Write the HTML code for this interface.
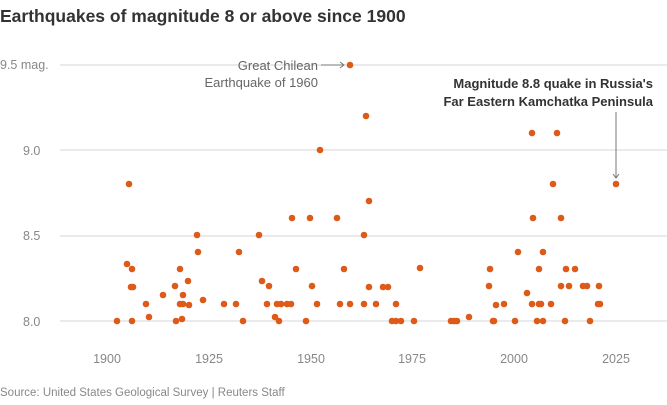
<!DOCTYPE html>
<html><head><meta charset="utf-8"><style>
body{margin:0;background:#fff;font-family:"Liberation Sans",sans-serif}
</style></head><body>
<svg width="667" height="400" xmlns="http://www.w3.org/2000/svg" font-family="Liberation Sans, sans-serif">
<text x="0" y="22" font-size="17.5" font-weight="bold" fill="#333">Earthquakes of magnitude 8 or above since 1900</text>
<g stroke="#d6d6d6" stroke-width="1">
<line x1="60" y1="65" x2="667" y2="65"/>
<line x1="60" y1="150" x2="667" y2="150"/>
<line x1="60" y1="236" x2="667" y2="236"/>
<line x1="60" y1="321" x2="667" y2="321"/>
</g>
<g font-size="12.5" fill="#888">
<text x="0" y="69">9.5 mag.</text>
<text x="23" y="155">9.0</text>
<text x="23" y="240">8.5</text>
<text x="23" y="326">8.0</text>
<g text-anchor="middle">
<text x="107" y="363">1900</text><text x="209" y="363">1925</text><text x="311" y="363">1950</text><text x="412" y="363">1975</text><text x="514" y="363">2000</text><text x="616" y="363">2025</text>
</g>
<text x="0" y="396" font-size="11.5">Source: United States Geological Survey | Reuters Staff</text>
</g>
<g font-size="13" fill="#666" text-anchor="end">
<text x="318" y="70">Great Chilean</text>
<text x="318" y="87">Earthquake of 1960</text>
</g>
<line x1="321" y1="65" x2="344" y2="65" stroke="#777"/>
<path d="M340 62 L344 65 L340 68" fill="none" stroke="#777"/>
<g font-size="13" font-weight="bold" fill="#333" text-anchor="end">
<text x="653" y="88">Magnitude 8.8 quake in Russia's</text>
<text x="653" y="106">Far Eastern Kamchatka Peninsula</text>
</g>
<line x1="616" y1="112" x2="616" y2="178" stroke="#777"/>
<path d="M613 174 L616 178 L619 174" fill="none" stroke="#777"/>
<g fill="#dd5a18">
<circle cx="129" cy="184" r="3.3"/><circle cx="117" cy="321" r="3.3"/><circle cx="132" cy="321" r="3.3"/><circle cx="127" cy="264" r="3.3"/><circle cx="132" cy="269" r="3.3"/><circle cx="131" cy="287" r="3.3"/><circle cx="133" cy="287" r="3.3"/><circle cx="146" cy="304" r="3.3"/><circle cx="149" cy="317" r="3.3"/><circle cx="163" cy="295" r="3.3"/><circle cx="176" cy="321" r="3.3"/><circle cx="175" cy="286" r="3.3"/><circle cx="180" cy="269" r="3.3"/><circle cx="180" cy="304" r="3.3"/><circle cx="183" cy="304" r="3.3"/><circle cx="182" cy="319" r="3.3"/><circle cx="183" cy="295" r="3.3"/><circle cx="188" cy="281" r="3.3"/><circle cx="189" cy="305" r="3.3"/><circle cx="197" cy="235" r="3.3"/><circle cx="198" cy="252" r="3.3"/><circle cx="203" cy="300" r="3.3"/><circle cx="224" cy="304" r="3.3"/><circle cx="236" cy="304" r="3.3"/><circle cx="239" cy="252" r="3.3"/><circle cx="243" cy="321" r="3.3"/><circle cx="259" cy="235" r="3.3"/><circle cx="262" cy="281" r="3.3"/><circle cx="269" cy="286" r="3.3"/><circle cx="267" cy="304" r="3.3"/><circle cx="275" cy="317" r="3.3"/><circle cx="277" cy="304" r="3.3"/><circle cx="281" cy="304" r="3.3"/><circle cx="279" cy="321" r="3.3"/><circle cx="287" cy="304" r="3.3"/><circle cx="291" cy="304" r="3.3"/><circle cx="292" cy="218" r="3.3"/><circle cx="296" cy="269" r="3.3"/><circle cx="310" cy="218" r="3.3"/><circle cx="312" cy="286" r="3.3"/><circle cx="306" cy="321" r="3.3"/><circle cx="317" cy="304" r="3.3"/>
<circle cx="350" cy="65" r="3.3"/><circle cx="366" cy="116" r="3.3"/><circle cx="320" cy="150" r="3.3"/><circle cx="369" cy="201" r="3.3"/><circle cx="337" cy="218" r="3.3"/><circle cx="364" cy="235" r="3.3"/><circle cx="344" cy="269" r="3.3"/><circle cx="420" cy="268" r="3.3"/><circle cx="369" cy="287" r="3.3"/><circle cx="383" cy="287" r="3.3"/><circle cx="388" cy="287" r="3.3"/><circle cx="340" cy="304" r="3.3"/><circle cx="350" cy="304" r="3.3"/><circle cx="364" cy="304" r="3.3"/><circle cx="376" cy="304" r="3.3"/><circle cx="396" cy="304" r="3.3"/><circle cx="392" cy="321" r="3.3"/><circle cx="396" cy="321" r="3.3"/><circle cx="401" cy="321" r="3.3"/><circle cx="414" cy="321" r="3.3"/>
<circle cx="451" cy="321" r="3.3"/><circle cx="454" cy="321" r="3.3"/><circle cx="457" cy="321" r="3.3"/><circle cx="469" cy="317" r="3.3"/>
<circle cx="532" cy="133" r="3.3"/><circle cx="557" cy="133" r="3.3"/><circle cx="553" cy="184" r="3.3"/><circle cx="616" cy="184" r="3.3"/><circle cx="533" cy="218" r="3.3"/><circle cx="561" cy="218" r="3.3"/><circle cx="518" cy="252" r="3.3"/><circle cx="543" cy="252" r="3.3"/><circle cx="490" cy="269" r="3.3"/><circle cx="539" cy="269" r="3.3"/><circle cx="566" cy="269" r="3.3"/><circle cx="575" cy="269" r="3.3"/><circle cx="489" cy="286" r="3.3"/><circle cx="561" cy="286" r="3.3"/><circle cx="569" cy="286" r="3.3"/><circle cx="583" cy="286" r="3.3"/><circle cx="587" cy="286" r="3.3"/><circle cx="599" cy="286" r="3.3"/><circle cx="527" cy="293" r="3.3"/><circle cx="496" cy="305" r="3.3"/><circle cx="504" cy="304" r="3.3"/><circle cx="532" cy="304" r="3.3"/><circle cx="539" cy="304" r="3.3"/><circle cx="541" cy="304" r="3.3"/><circle cx="551" cy="304" r="3.3"/><circle cx="598" cy="304" r="3.3"/><circle cx="600" cy="304" r="3.3"/><circle cx="493" cy="321" r="3.3"/><circle cx="494" cy="321" r="3.3"/><circle cx="515" cy="321" r="3.3"/><circle cx="537" cy="321" r="3.3"/><circle cx="543" cy="321" r="3.3"/><circle cx="565" cy="321" r="3.3"/><circle cx="590" cy="321" r="3.3"/>
</g>
</svg>
</body></html>
